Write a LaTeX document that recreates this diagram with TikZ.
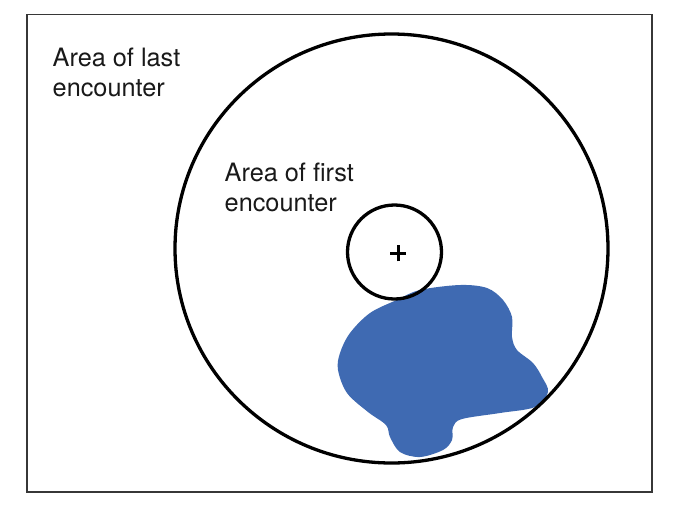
\documentclass[tikz,border=0pt]{standalone}
\usepackage{fontspec}
\usetikzlibrary{shapes.geometric}
\setmainfont{TeX Gyre Heros}
\definecolor{blobblue}{RGB}{63,106,178}
\definecolor{framegray}{RGB}{55,55,55}
\begin{document}
\begin{tikzpicture}[x=1pt,y=-1pt,
  lbl/.style={font=\fontsize{25.3}{30}\selectfont, align=left, inner sep=0pt, text=black!90},
  ring/.style={draw=black, line width=3.3pt},
  framebox/.style={draw=framegray, line width=1.4pt}]
\useasboundingbox (0,0) rectangle (685,512);
\fill[white] (0,0) rectangle (685,512);
\draw[framebox] (27,14.5) rectangle (652,492);
% blob, clipped to the big circle
\begin{scope}
\clip (391.5,248.5) ellipse [x radius=216.5, y radius=214.5];
\fill[blobblue] plot[smooth cycle, tension=0.55] coordinates {
 (396.7,300) (420,290) (460,285) (487,288) (503,300) (512,317) (512,337)
 (517,350) (533,363) (542,377) (548,392) (535,407) (500,413) (462,419)
 (453,427) (452,440) (443,450) (420,457) (400,452) (390,437) (386,425)
 (368,412) (347,393) (338,370) (340,353) (350,333) (370,313)};
\end{scope}
\node[ring, ellipse, minimum width=433pt, minimum height=429pt, inner sep=0pt] (last) at (391.5,248.5) {};
\node[ring, circle, minimum size=94pt, inner sep=0pt] (first) at (394.5,252) {};
\coordinate (c) at (398.3,253.3);
\draw[line width=3pt] ([xshift=-8pt]c) -- ([xshift=8pt]c) ([yshift=-8pt]c) -- ([yshift=8pt]c);
\node[lbl, anchor=base west] (lastlbl) at (52.5,96.7) {Area of last\\encounter};
\node[lbl, anchor=base west] (firstlbl) at (224.5,211.3) {Area of first\\encounter};
\end{tikzpicture}
\end{document}
